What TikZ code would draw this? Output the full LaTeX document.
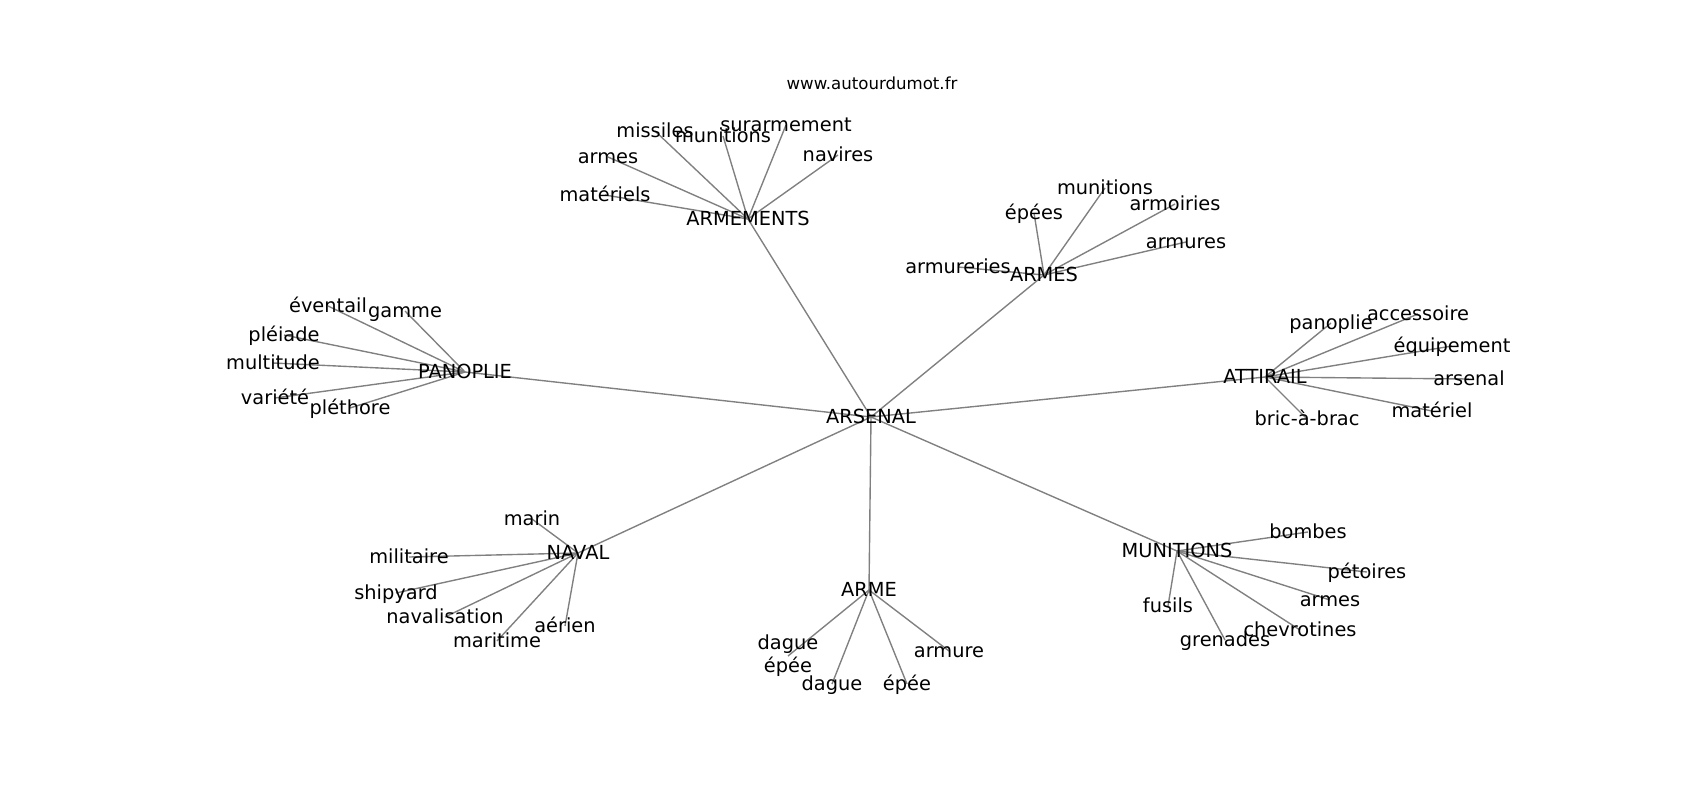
\documentclass[tikz,border=0pt]{standalone}
\usepackage{fontspec}
\setmainfont{DejaVu Sans}
\usetikzlibrary{backgrounds}
\tikzset{%
  lbl/.style  = {inner sep=0pt, align=center,%
                 font=\fontsize{14}{16.8}\selectfont},%
  word/.style = {lbl, text height=1.08em, text depth=0.21em},%
  site/.style = {inner sep=0pt, font=\fontsize{12}{14.4}\selectfont},%
  link/.style = {draw=gray, line width=1pt}%
}

\begin{document}
\begin{tikzpicture}[x=0.254mm, y=-0.254mm]%
	\useasboundingbox (0,0) rectangle (1700,800);
	\node [site] (site) at (872,83) {www.autourdumot.fr};
	% centre et groupes
	\node [word] (ars)   at (871,417) {ARSENAL};
	\node [word] (armts) at (748,219) {ARMEMENTS};
	\node [word] (armes) at (1044,275) {ARMES};
	\node [word] (pano)  at (465,372) {PANOPLIE};
	\node [word] (attir) at (1265,377) {ATTIRAIL};
	\node [word] (naval) at (578,553) {NAVAL};
	\node [word] (arme)  at (869,590) {ARME};
	\node [word] (munit) at (1177,551) {MUNITIONS};
	% ARMEMENTS
	\node [word] (armts1) at (655,131) {missiles};
	\node [word] (armts2) at (723,136) {munitions};
	\node [word] (armts3) at (786,125) {surarmement};
	\node [word] (armts4) at (838,155) {navires};
	\node [word] (armts5) at (608,157) {armes};
	\node [word] (armts6) at (605,195) {matériels};
	% ARMES
	\node [word] (armes1) at (1105,188) {munitions};
	\node [word] (armes2) at (1175,204) {armoiries};
	\node [word] (armes3) at (1034,213) {épées};
	\node [word] (armes4) at (1186,242) {armures};
	\node [word] (armes5) at (958,267) {armureries};
	% PANOPLIE
	\node [word] (pano1) at (328,306) {éventail};
	\node [word] (pano2) at (405,311) {gamme};
	\node [word] (pano3) at (284,335) {pléiade};
	\node [word] (pano4) at (273,363) {multitude};
	\node [word] (pano5) at (275,398) {variété};
	\node [word] (pano6) at (350,408) {pléthore};
	% ATTIRAIL
	\node [word] (attir1) at (1331,323) {panoplie};
	\node [word] (attir2) at (1418,314) {accessoire};
	\node [word] (attir3) at (1452,346) {équipement};
	\node [word] (attir4) at (1469,379) {arsenal};
	\node [word] (attir5) at (1432,411) {matériel};
	\node [word] (attir6) at (1307,419) {bric-à-brac};
	% NAVAL
	\node [word] (naval1) at (532,519) {marin};
	\node [word] (naval2) at (409,557) {militaire};
	\node [word] (naval3) at (396,593) {shipyard};
	\node [word] (naval4) at (445,617) {navalisation};
	\node [word] (naval5) at (497,641) {maritime};
	\node [word] (naval6) at (565,626) {aérien};
	% ARME
	\node [lbl]  (arme1) at (788,656) {dague\\épée};
	\node [word] (arme2) at (832,684) {dague};
	\node [word] (arme3) at (907,684) {épée};
	\node [word] (arme4) at (949,651) {armure};
	% MUNITIONS
	\node [word] (munit1) at (1308,532) {bombes};
	\node [word] (munit2) at (1367,572) {pétoires};
	\node [word] (munit3) at (1330,600) {armes};
	\node [word] (munit4) at (1300,630) {chevrotines};
	\node [word] (munit5) at (1225,640) {grenades};
	\node [word] (munit6) at (1168,606) {fusils};
	\begin{pgfonlayer}{background}
		\foreach \g in {armts,armes,pano,attir,naval,arme,munit}
			\draw [link] (ars.center) -- (\g.center);
		\foreach \g/\n in {armts/6,armes/5,pano/6,attir/6,naval/6,arme/4,munit/6}
			\foreach \i in {1,...,\n}
				\draw [link] (\g.center) -- (\g\i.center);
	\end{pgfonlayer}
\end{tikzpicture}
\end{document}
